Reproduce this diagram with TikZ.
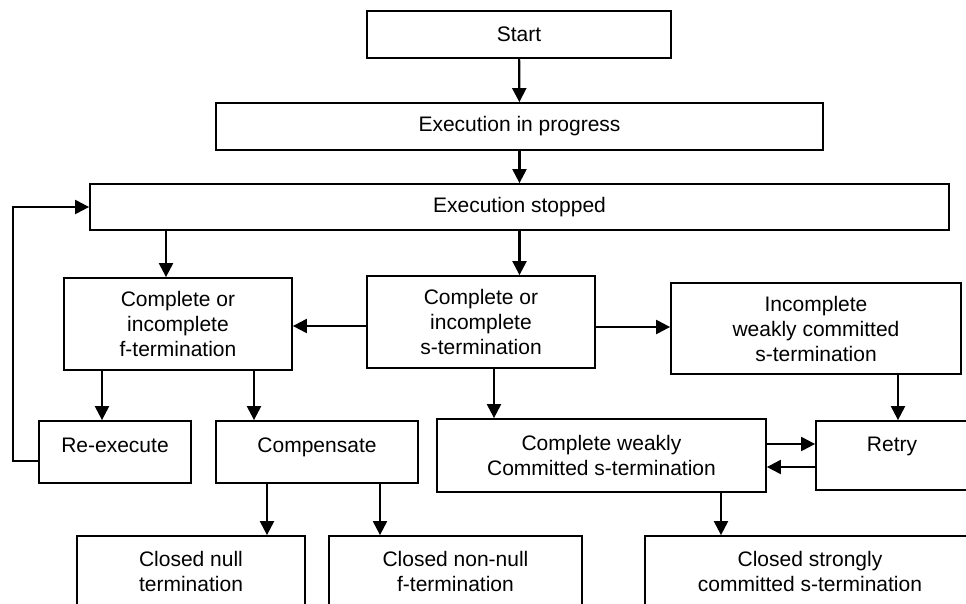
\documentclass[tikz,border=0pt]{standalone}
\usepackage{fontspec}
\setmainfont{Liberation Sans}
\usetikzlibrary{arrows.meta}
\begin{document}
\begin{tikzpicture}[x=1pt,y=-1pt,
  box/.style={draw, line width=1.8pt, inner sep=0pt, align=center,
              font=\fontsize{21}{25}\selectfont},
  arr/.style={line width=2.2pt, -{Triangle[length=14pt,width=14pt]}},
  hightext/.style={text height=12pt, text depth=12pt},
]
\useasboundingbox (0,0) rectangle (966,603);
\clip (0,0) rectangle (966,603);

% states
\node[box, minimum width=304pt, minimum height=47pt] (start) at (519,34.5) {Start};
\node[box, minimum width=607pt, minimum height=47pt] (prog) at (519.5,126.5) {Execution in progress};
\node[box, minimum width=859pt, minimum height=46pt] (stop) at (519.5,207) {Execution stopped};

\node[box, minimum width=228pt, minimum height=92pt] (cif) at (178,324)
  {Complete or\\incomplete\\f-termination};
\node[box, minimum width=228pt, minimum height=92pt] (cis) at (481,322)
  {Complete or\\incomplete\\s-termination};
\node[box, minimum width=290pt, minimum height=91pt] (inc) at (816,328.5)
  {Incomplete\\weakly committed\\s-termination};

\node[box, hightext, minimum width=152pt, minimum height=62pt] (reex) at (115,452) {Re-execute};
\node[box, hightext, minimum width=202pt, minimum height=62pt] (comp) at (317,452) {Compensate};
\node[box, minimum width=329pt, minimum height=73pt] (cwc) at (601.5,455.5)
  {Complete weakly\\Committed s-termination};
\node[box, text height=12pt, text depth=20pt, minimum width=152pt, minimum height=69pt] (retry) at (892,455.5) {Retry};

\node[box, minimum width=228pt, minimum height=71pt] (cnull) at (191,571.5)
  {Closed null\\termination};
\node[box, minimum width=253pt, minimum height=71pt] (cnn) at (455.5,571.5)
  {Closed non-null\\f-termination};
\node[box, minimum width=330pt, minimum height=71pt] (cstrong) at (810,571.5)
  {Closed strongly\\committed s-termination};

% connector anchor points
\coordinate (cifin) at ([xshift=-12pt]cif.north);
\coordinate (cisleft) at ([yshift=-4pt]cis.west);
\coordinate (cisright) at ([yshift=-5pt]cis.east);
\coordinate (cifl) at ([xshift=-76pt]cif.south);
\coordinate (cifr) at ([xshift=76pt]cif.south);
\coordinate (loopout) at ([yshift=-9pt]reex.west);
\coordinate (compl) at ([xshift=-50pt]comp.south);
\coordinate (compr) at ([xshift=63pt]comp.south);
\coordinate (cisdown) at ([xshift=13pt]cis.south);
\coordinate (incdown) at ([xshift=82pt]inc.south);
\coordinate (cwcup) at ([yshift=11.5pt]cwc.east);
\coordinate (retrylow) at ([yshift=-11.5pt]retry.west);
\coordinate (cwcdown) at ([xshift=119.5pt]cwc.south);

% transitions
\draw[arr] (start) -- (prog);
\draw[arr] (prog.south) -- (prog.south |- stop.north);
\draw[arr] (stop.south) -- (stop.south |- cis.north);
\draw[arr] (cifin |- stop.south) -- (cifin);
\draw[arr] (cisleft) -- (cisleft -| cif.east);
\draw[arr] (cisright) -- (cisright -| inc.west);
\draw[arr] (cifl) -- (cifl |- reex.north);
\draw[arr] (cifr) -- (cifr |- comp.north);
\draw[arr] (loopout) -- ++(-25,0) |- (stop.west);
\draw[arr] (compl) -- (compl |- cnull.north);
\draw[arr] (compr) -- (compr |- cnn.north);
\draw[arr] (cisdown) -- (cisdown |- cwc.north);
\draw[arr] (incdown) -- (incdown |- retry.north);
\draw[arr] (cwcup) -- (cwcup -| retry.west);
\draw[arr] (retrylow) -- (retrylow -| cwc.east);
\draw[arr] (cwcdown) -- (cwcdown |- cstrong.north);
\end{tikzpicture}
\end{document}
